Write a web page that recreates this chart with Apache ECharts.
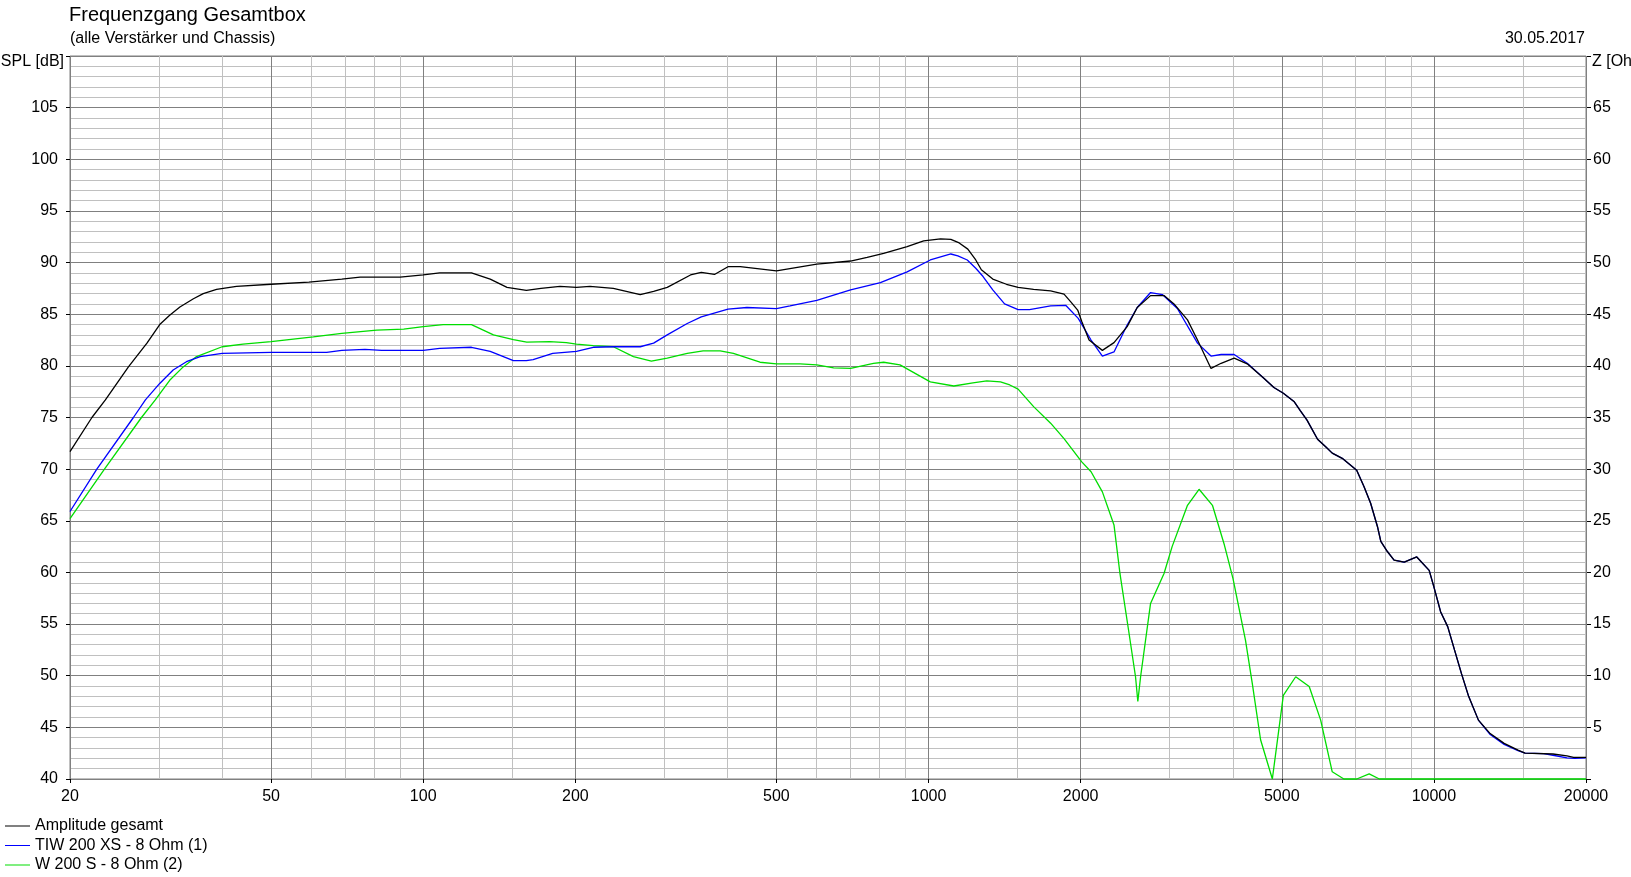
<!DOCTYPE html>
<html><head><meta charset="utf-8">
<script src="https://cdn.jsdelivr.net/npm/echarts@6/dist/echarts.min.js"></script>
<style>html,body{margin:0;padding:0;background:#fff}#c{width:1631px;height:877px}</style>
</head><body><div id="c"></div>
<script>
const FONT = "'Liberation Sans', Arial, sans-serif";

const freqLabels = [20, 50, 100, 200, 500, 1000, 2000, 5000, 10000, 20000];
const freqMinorGrid = [30, 40, 60, 70, 80, 90, 150, 300, 400, 600, 700, 800, 900, 1500, 3000, 4000, 6000, 7000, 8000, 9000, 15000];

const seriesNames = ['Amplitude gesamt', 'TIW 200 XS - 8 Ohm (1)', 'W 200 S - 8 Ohm (2)'];
const seriesColors = ['#000000', '#0000ff', '#00dd00'];

// [frequency Hz, SPL dB]
const amplitudeGesamt = [
  [20,71.7],[22.1,75.0],[23.5,76.7],[26.1,79.9],[28.4,82.2],[30.1,84.0],[31.5,84.9],[33,85.7],[35.1,86.5],[36.7,87.0],[39,87.4],[42.7,87.7],[50,87.9],[59.4,88.1],[69,88.4],[75,88.6],[90,88.6],[100,88.8],[107.8,89.0],[124.6,89.0],[135.7,88.4],[146.5,87.6],[160,87.3],[171,87.5],[186.5,87.7],[201,87.6],[213.8,87.7],[237.8,87.5],[268.8,86.9],[285.7,87.2],[304,87.6],[338,88.8],[355,89.05],[377,88.85],[401,89.6],[424,89.6],[500,89.2],[601,89.85],[701,90.15],[756,90.5],[815,90.9],[907,91.55],[978,92.1],[1056,92.3],[1107,92.25],[1150,91.9],[1196,91.3],[1240,90.25],[1272,89.3],[1340,88.4],[1426,87.9],[1504,87.6],[1614,87.4],[1744,87.25],[1854,86.95],[1912,86.2],[1973,85.4],[2010,84.3],[2078,82.5],[2208,81.5],[2328,82.25],[2472,83.8],[2588,85.65],[2750,86.8],[2924,86.8],[3060,86.0],[3254,84.45],[3406,82.5],[3622,79.75],[3793,80.25],[4025,80.75],[4272,80.2],[4608,78.8],[4824,77.9],[5036,77.35],[5286,76.55],[5444,75.65],[5610,74.75],[5886,72.9],[6115,72.15],[6293,71.55],[6586,71.05],[7035,69.9],[7275,68.3],[7496,66.7],[7732,64.45],[7852,63.0],[8097,62.0],[8341,61.2],[8736,61.0],[9250,61.5],[9788,60.2],[10000,58.6],[10310,56.2],[10650,54.75],[10985,52.5],[11340,50.2],[11716,48.0],[12250,45.7],[12924,44.4],[13774,43.45],[14672,42.8],[15150,42.5],[17206,42.42],[18336,42.23],[18900,42.1],[20000,42.1]
];
const tiw200xs = [
  [20,65.9],[22.6,70.0],[26.7,75.0],[28.2,76.7],[30.1,78.3],[32,79.6],[34,80.4],[36.2,80.9],[40,81.2],[50,81.3],[64.4,81.3],[69,81.5],[76.7,81.6],[82.7,81.5],[100,81.5],[107.8,81.7],[124.6,81.8],[135.7,81.4],[150.8,80.5],[160,80.5],[165,80.6],[180.4,81.2],[201,81.4],[217,81.8],[237.8,81.85],[268.8,81.85],[285.7,82.2],[304,83.0],[333,84.1],[355,84.75],[401,85.5],[437,85.65],[500,85.55],[532,85.8],[601,86.35],[649,86.85],[701,87.35],[803,88.05],[907,89.1],[1008,90.25],[1107,90.83],[1143,90.65],[1193,90.25],[1240,89.45],[1282,88.65],[1340,87.35],[1414,86.0],[1504,85.45],[1584,85.45],[1744,85.8],[1870,85.85],[1978,84.6],[2097,82.5],[2208,80.95],[2328,81.35],[2472,83.95],[2588,85.65],[2750,87.1],[2902,86.9],[3107,85.55],[3406,82.2],[3622,80.95],[3793,81.1],[4025,81.1],[4272,80.25],[4608,78.8],[4824,77.9],[5036,77.35],[5286,76.55],[5444,75.65],[5610,74.75],[5886,72.9],[6115,72.15],[6293,71.55],[6586,71.05],[7035,69.9],[7275,68.3],[7496,66.7],[7732,64.45],[7852,63.0],[8097,62.0],[8341,61.2],[8736,61.0],[9250,61.5],[9788,60.2],[10000,58.6],[10310,56.2],[10650,54.75],[10985,52.5],[11340,50.2],[11716,48.0],[12250,45.7],[12924,44.3],[13774,43.35],[14672,42.75],[15150,42.5],[16500,42.45],[17206,42.3],[18336,42.05],[19000,42.0],[20000,42.05]
];
const w200s = [
  [20,65.2],[23.4,70.0],[27.7,75.0],[29.5,76.7],[31.5,78.6],[33.5,79.9],[35.6,80.9],[40,81.85],[44,82.1],[50,82.35],[60.6,82.8],[69,83.15],[80.9,83.45],[91.5,83.55],[100,83.8],[109.5,84.0],[124.6,84.0],[137.7,83.0],[150.8,82.55],[160.3,82.3],[178,82.35],[192,82.25],[201,82.1],[217,81.95],[237.8,81.85],[260.6,80.9],[282.8,80.45],[304,80.75],[333,81.2],[358,81.45],[387,81.45],[411,81.2],[464,80.35],[500,80.2],[557,80.2],[601,80.1],[649,79.8],[701,79.75],[778,80.25],[815,80.35],[878,80.1],[1008,78.45],[1122,78.05],[1224,78.35],[1304,78.55],[1388,78.45],[1448,78.15],[1504,77.75],[1614,76.05],[1744,74.45],[1854,72.95],[2010,70.7],[2097,69.75],[2208,67.8],[2328,64.6],[2392,59.9],[2488,54.4],[2568,49.9],[2595,47.5],[2628,49.9],[2750,57.0],[2924,59.9],[3034,62.5],[3254,66.5],[3430,68.05],[3646,66.5],[3850,62.65],[4004,59.4],[4238,53.45],[4370,49.3],[4540,43.8],[4790,40.0],[5036,48.1],[5328,49.9],[5666,48.95],[5970,45.7],[6293,40.7],[6636,40.0],[7035,40.0],[7447,40.5],[7800,40.0],[20000,40.0]
];

const titleText = 'Frequenzgang Gesamtbox';
const subtitleText = '(alle Verstärker und Chassis)';
const dateText = '30.05.2017';
const leftAxisName = 'SPL [dB]';
const rightAxisName = 'Z [Ohm]';

const chart = echarts.init(document.getElementById('c'), null, {renderer: 'canvas'});
const txt = (size) => ({fontSize: size, fontWeight: 'normal', color: '#000', fontFamily: FONT});

const seriesData = [amplitudeGesamt, tiw200xs, w200s];
const series = [2, 1, 0].map(i => ({
  name: seriesNames[i],
  type: 'line',
  xAxisIndex: 0,
  yAxisIndex: 0,
  data: seriesData[i],
  showSymbol: false,
  symbol: 'none',
  clip: false,
  lineStyle: {width: 1.3, color: seriesColors[i]},
  itemStyle: {color: seriesColors[i]},
  emphasis: {disabled: true},
  z: 3 + (2 - i)
}));

chart.setOption({
  animation: false,
  backgroundColor: '#ffffff',
  textStyle: {fontFamily: FONT},
  title: [
    {text: titleText, left: 69, top: 5, padding: 0, textStyle: txt(20)},
    {text: subtitleText, left: 70, top: 31, padding: 0, textStyle: txt(16)},
    {text: dateText, right: 46, top: 31, padding: 0, textStyle: txt(16)}
  ],
  graphic: [
    {type: 'text', style: {text: leftAxisName, x: 64, y: 62, align: 'right', verticalAlign: 'middle', font: '16px ' + FONT, fill: '#000'}},
    {type: 'text', style: {text: rightAxisName, x: 1592, y: 62, align: 'left', verticalAlign: 'middle', font: '16px ' + FONT, fill: '#000'}}
  ],
  legend: {
    orient: 'vertical', left: 5, top: 818, padding: 0, itemGap: 3.5,
    itemWidth: 25, itemHeight: 1, icon: 'rect', selectedMode: false,
    textStyle: Object.assign(txt(16), {lineHeight: 16}),
    data: seriesNames
  },
  grid: {left: 70, top: 56, width: 1516, height: 723, show: true, borderColor: '#808080', borderWidth: 1, backgroundColor: '#ffffff'},
  xAxis: [
    {
      type: 'log', logBase: 10, min: 20, max: 20000, position: 'bottom',
      axisLine: {show: false},
      axisTick: {show: true, length: 4, lineStyle: {color: '#000'}, customValues: freqLabels},
      axisLabel: {show: true, margin: 10, customValues: freqLabels, formatter: v => String(Math.round(v)), ...txt(16)},
      splitLine: {show: true, lineStyle: {color: '#808080', width: 1}},
      z: 2
    },
    {
      type: 'log', logBase: 10, min: 20, max: 20000, position: 'bottom',
      axisLine: {show: false},
      axisTick: {show: false, customValues: freqMinorGrid},
      axisLabel: {show: false},
      splitLine: {show: true, lineStyle: {color: '#c0c0c0', width: 1}},
      z: 1
    }
  ],
  yAxis: [
    {
      type: 'value', min: 40, max: 110, interval: 5, position: 'left',
      axisLine: {show: false},
      axisTick: {show: true, length: 4, lineStyle: {color: '#000'}},
      axisLabel: {margin: 12, formatter: v => (v === 110 ? '' : String(v)), ...txt(16)},
      splitLine: {show: true, lineStyle: {color: '#808080', width: 1}},
      minorTick: {show: false, splitNumber: 5},
      minorSplitLine: {show: true, lineStyle: {color: '#c0c0c0', width: 1}}
    },
    {
      type: 'value', min: 0, max: 70, interval: 5, position: 'right',
      axisLine: {show: false},
      axisTick: {show: true, length: 5, lineStyle: {color: '#000'}},
      axisLabel: {margin: 7, formatter: v => (v === 0 || v === 70 ? '' : String(v)), ...txt(16)},
      splitLine: {show: false}
    }
  ],
  series: series
});
</script>
</body></html>
